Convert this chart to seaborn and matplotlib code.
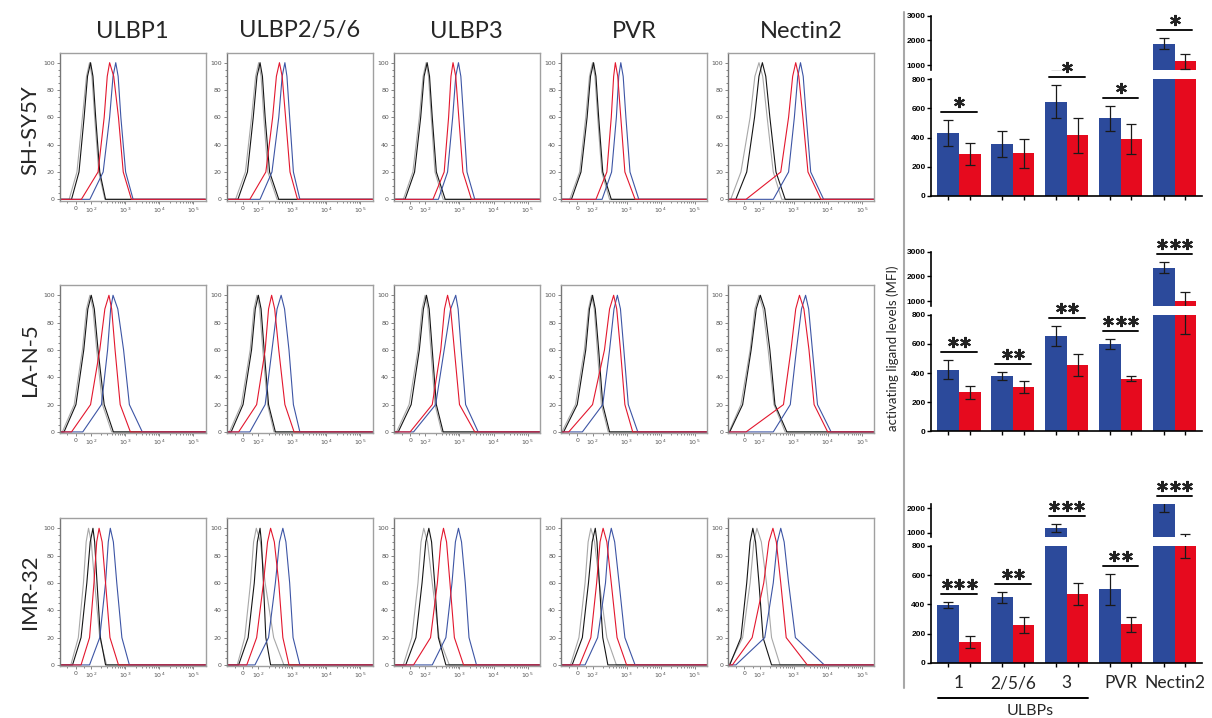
import numpy as np
import pandas as pd
import matplotlib
matplotlib.use('Agg')
import matplotlib.pyplot as plt
import seaborn as sns
from matplotlib.lines import Line2D

sns.set_theme(style='white')
plt.rcParams['font.family'] = ['Lato', 'DejaVu Sans']

markers = ['ULBP1', 'ULBP2/5/6', 'ULBP3', 'PVR', 'Nectin2']
cell_lines = ['SH-SY5Y', 'LA-N-5', 'IMR-32']

# histogram outlines: x position (decades, 10^2 -> 2) where each curve passes these % of max
hist_levels = [0, 20, 60, 90, 100, 90, 60, 20, 0]

shsy5y_gray = [[1.35, 1.58, 1.74, 1.86, 1.95, 2.02, 2.10, 2.22, 2.40],
               [1.33, 1.62, 1.80, 1.92, 2.01, 2.08, 2.16, 2.28, 2.55],
               [1.35, 1.63, 1.82, 1.93, 2.02, 2.09, 2.17, 2.28, 2.52],
               [1.33, 1.62, 1.80, 1.91, 2.00, 2.07, 2.15, 2.27, 2.50],
               [1.15, 1.45, 1.72, 1.86, 1.98, 2.09, 2.22, 2.40, 2.65]]
shsy5y_black = [[1.42, 1.64, 1.79, 1.89, 1.98, 2.05, 2.13, 2.25, 2.42],
                [1.40, 1.68, 1.85, 1.96, 2.05, 2.12, 2.20, 2.33, 2.60],
                [1.40, 1.68, 1.86, 1.96, 2.05, 2.12, 2.20, 2.32, 2.58],
                [1.38, 1.66, 1.84, 1.94, 2.03, 2.10, 2.18, 2.30, 2.55],
                [1.30, 1.62, 1.85, 1.98, 2.08, 2.18, 2.30, 2.48, 2.75]]
shsy5y_red = [[1.71, 2.20, 2.38, 2.47, 2.54, 2.66, 2.80, 2.94, 3.18],
              [1.75, 2.22, 2.42, 2.53, 2.62, 2.70, 2.80, 2.93, 3.15],
              [2.22, 2.55, 2.68, 2.75, 2.81, 2.89, 2.98, 3.10, 3.35],
              [2.10, 2.42, 2.55, 2.62, 2.67, 2.74, 2.83, 2.95, 3.25],
              [1.60, 2.62, 2.85, 2.97, 3.06, 3.15, 3.27, 3.42, 3.80]]
shsy5y_blue = [[1.96, 2.35, 2.54, 2.64, 2.72, 2.79, 2.87, 3.01, 3.23],
               [2.05, 2.40, 2.60, 2.70, 2.78, 2.84, 2.92, 3.03, 3.22],
               [2.38, 2.65, 2.80, 2.89, 2.97, 3.04, 3.12, 3.22, 3.45],
               [2.28, 2.56, 2.70, 2.77, 2.83, 2.90, 2.98, 3.10, 3.36],
               [2.40, 2.85, 3.02, 3.12, 3.20, 3.28, 3.37, 3.50, 3.88]]

lan5_gray = [[1.15, 1.50, 1.74, 1.86, 1.96, 2.05, 2.16, 2.33, 2.60],
             [1.15, 1.50, 1.76, 1.87, 1.96, 2.04, 2.13, 2.27, 2.46],
             [1.15, 1.52, 1.78, 1.90, 1.99, 2.07, 2.16, 2.28, 2.48],
             [1.10, 1.50, 1.76, 1.88, 1.97, 2.05, 2.14, 2.26, 2.46],
             [1.10, 1.45, 1.72, 1.86, 1.98, 2.10, 2.25, 2.42, 2.75]]
lan5_black = [[1.20, 1.55, 1.78, 1.90, 2.00, 2.09, 2.20, 2.38, 2.65],
              [1.20, 1.55, 1.80, 1.91, 2.00, 2.08, 2.17, 2.30, 2.50],
              [1.20, 1.58, 1.82, 1.94, 2.03, 2.11, 2.20, 2.32, 2.52],
              [1.15, 1.55, 1.80, 1.91, 2.00, 2.08, 2.18, 2.30, 2.50],
              [1.12, 1.50, 1.75, 1.90, 2.02, 2.15, 2.30, 2.45, 2.80]]
lan5_red = [[1.42, 1.98, 2.25, 2.40, 2.52, 2.60, 2.70, 2.85, 3.15],
            [1.42, 1.95, 2.20, 2.30, 2.39, 2.48, 2.60, 2.78, 3.05],
            [1.55, 2.20, 2.45, 2.56, 2.65, 2.74, 2.85, 3.00, 3.45],
            [1.30, 2.00, 2.35, 2.50, 2.62, 2.71, 2.82, 2.95, 3.18],
            [1.60, 2.70, 2.92, 3.06, 3.17, 3.30, 3.45, 3.60, 4.00]]
lan5_blue = [[1.75, 2.30, 2.48, 2.57, 2.64, 2.78, 2.95, 3.12, 3.50],
             [1.75, 2.20, 2.40, 2.55, 2.67, 2.77, 2.90, 3.03, 3.22],
             [1.65, 2.30, 2.55, 2.74, 2.89, 2.96, 3.05, 3.18, 3.55],
             [1.70, 2.30, 2.50, 2.63, 2.73, 2.82, 2.92, 3.05, 3.33],
             [2.40, 2.90, 3.08, 3.23, 3.35, 3.44, 3.55, 3.70, 4.10]]

imr32_gray = [[1.40, 1.62, 1.77, 1.85, 1.92, 2.00, 2.10, 2.25, 2.45],
              [1.38, 1.60, 1.77, 1.86, 1.94, 2.06, 2.20, 2.45, 2.75],
              [1.35, 1.60, 1.78, 1.87, 1.95, 2.06, 2.20, 2.40, 2.70],
              [1.35, 1.60, 1.78, 1.87, 1.95, 2.06, 2.20, 2.42, 2.70],
              [1.10, 1.50, 1.72, 1.83, 1.92, 2.05, 2.20, 2.35, 2.60]]
imr32_black = [[1.45, 1.70, 1.87, 1.97, 2.05, 2.10, 2.17, 2.27, 2.42],
               [1.42, 1.70, 1.88, 1.97, 2.05, 2.09, 2.15, 2.22, 2.36],
               [1.42, 1.72, 1.90, 2.01, 2.10, 2.18, 2.27, 2.38, 2.60],
               [1.40, 1.70, 1.88, 1.99, 2.08, 2.13, 2.20, 2.30, 2.45],
               [1.12, 1.45, 1.62, 1.72, 1.80, 1.88, 1.98, 2.10, 2.35]]
imr32_red = [[1.70, 1.95, 2.08, 2.16, 2.23, 2.32, 2.42, 2.55, 2.80],
             [1.66, 1.95, 2.15, 2.27, 2.36, 2.47, 2.60, 2.72, 2.90],
             [1.65, 2.15, 2.35, 2.45, 2.53, 2.62, 2.72, 2.85, 3.12],
             [1.62, 1.95, 2.12, 2.22, 2.31, 2.42, 2.55, 2.72, 3.00],
             [1.20, 1.78, 2.12, 2.27, 2.39, 2.49, 2.62, 2.78, 3.40]]
imr32_blue = [[1.95, 2.25, 2.42, 2.50, 2.56, 2.65, 2.75, 2.90, 3.12],
              [1.90, 2.30, 2.50, 2.62, 2.72, 2.81, 2.92, 3.02, 3.22],
              [2.20, 2.60, 2.78, 2.88, 2.97, 3.06, 3.17, 3.28, 3.50],
              [1.78, 2.15, 2.38, 2.47, 2.55, 2.65, 2.78, 2.95, 3.25],
              [1.30, 2.15, 2.40, 2.52, 2.62, 2.72, 2.85, 3.05, 3.90]]

# bar charts: MFI, control (blue) vs treated (red)
bar_groups = ['1', '2/5/6', '3', 'PVR', 'Nectin2']
shsy5y_blue_mfi = [434, 359, 645, 533, 1866]
shsy5y_blue_err = [90, 90, 113, 85, 228]
shsy5y_red_mfi = [288, 293, 418, 391, 1154]
shsy5y_red_err = [78, 100, 120, 102, 320]
shsy5y_stars = [1, 0, 1, 1, 1]

lan5_blue_mfi = [421, 379, 654, 597, 2349]
lan5_blue_err = [65, 30, 70, 35, 220]
lan5_red_mfi = [267, 302, 455, 361, 1027]
lan5_red_err = [43, 41, 75, 16, 362]
lan5_stars = [2, 2, 2, 3, 3]

imr32_blue_mfi = [396, 448, 1180, 503, 2250]
imr32_blue_err = [18, 36, 165, 108, 410]
imr32_red_mfi = [140, 260, 471, 263, 830]
imr32_red_err = [40, 55, 74, 53, 115]
imr32_stars = [3, 2, 3, 2, 3]

hist_colors = {'gray': '#a8a8a8', 'black': '#151515', 'blue': '#3d55a5', 'red': '#e3172e'}
bar_blue = '#2c4a9b'
bar_red = '#e60a1e'

W, H = 1212, 718
fig = plt.figure(figsize=(W / 100, H / 100), dpi=100)

def fx(px):
    return px / W

def fy(px):
    return 1 - px / H

# ---------- histograms ----------
hist_xlim = (1.07, 5.36)
row_tops = [52.7, 285.3, 518.3]
col_lefts = [59.6 + 167.1 * k for k in range(5)]
rows = [(shsy5y_gray, shsy5y_black, shsy5y_blue, shsy5y_red),
        (lan5_gray, lan5_black, lan5_blue, lan5_red),
        (imr32_gray, imr32_black, imr32_blue, imr32_red)]
minor_x = [np.log10(k * 10 ** d) for d in (2, 3, 4) for k in range(2, 10)] + [1.3, 1.8]

for r, (g, b, bl, rd) in enumerate(rows):
    for c in range(5):
        ax = fig.add_axes([fx(col_lefts[c]), fy(row_tops[r] + 148), fx(146), 148 / H])
        for name, curves in zip(['gray', 'black', 'blue', 'red'], [g, b, bl, rd]):
            xs = [hist_xlim[0]] + curves[c] + [hist_xlim[1]]
            ys = [0] + hist_levels + [0]
            sns.lineplot(x=xs, y=ys, ax=ax, color=hist_colors[name], lw=0.8,
                         sort=False, estimator=None)
        ax.set_xlim(*hist_xlim)
        ax.set_ylim(-1, 107.3)
        ax.set_xlabel('')
        ax.set_ylabel('')
        ax.set_yticks([0, 20, 40, 60, 80, 100])
        ax.set_yticks(np.arange(0, 101, 5), minor=True)
        ax.set_xticks([1.55, 2, 3, 4, 5])
        ax.set_xticks(minor_x, minor=True)
        ax.set_xticklabels(['0', r'$10^2$', r'$10^3$', r'$10^4$', r'$10^5$'])
        ax.tick_params(which='both', direction='out', colors='#555555', labelsize=4.5,
                       width=0.5, pad=1, left=True, bottom=True)
        ax.tick_params(which='major', length=2.5)
        ax.tick_params(which='minor', length=1.2)
        for lab in ax.get_xticklabels() + ax.get_yticklabels():
            lab.set_fontfamily('DejaVu Sans')
        for s in ax.spines.values():
            s.set_color('#a0a0a0')
            s.set_linewidth(1.0)
        ax.spines['left'].set_color('#777777')

for c, m in enumerate(markers):
    fig.text(fx(col_lefts[c] + 73), fy(31), m, fontsize=17, ha='center', va='center')
for r, (lab, yc) in enumerate(zip(cell_lines, [130, 360, 592])):
    fig.text(fx(30), fy(yc), lab, fontsize=16, rotation=90, ha='center', va='center')

# ---------- bar charts ----------
fig.add_artist(Line2D([fx(904), fx(904)], [fy(12), fy(688)], color='#a8a8a8', lw=1.5))
fig.text(fx(893), fy(348), 'activating ligand levels (MFI)', rotation=90,
         fontsize=9.5, ha='center', va='center')

bar_sets = [
    (shsy5y_blue_mfi, shsy5y_blue_err, shsy5y_red_mfi, shsy5y_red_err, shsy5y_stars,
     (79.3, 196), (15.7, 70), 3000, [1000, 2000, 3000]),
    (lan5_blue_mfi, lan5_blue_err, lan5_red_mfi, lan5_red_err, lan5_stars,
     (314.7, 431.3), (251.7, 306), 3000, [1000, 2000, 3000]),
    (imr32_blue_mfi, imr32_blue_err, imr32_red_mfi, imr32_red_err, imr32_stars,
     (546, 662.7), (504, 537.3), 2180, [1000, 2000]),
]
bx0, bx1 = 931, 1202
xpos = np.arange(5)

for i, (bm, be, rm, re_, stars, lo_px, hi_px, top, hi_ticks) in enumerate(bar_sets):
    ax_lo = fig.add_axes([fx(bx0), fy(lo_px[1]), fx(bx1 - bx0), (lo_px[1] - lo_px[0]) / H])
    ax_hi = fig.add_axes([fx(bx0), fy(hi_px[1]), fx(bx1 - bx0), (hi_px[1] - hi_px[0]) / H])
    df = pd.DataFrame({'group': bar_groups * 2,
                       'cond': ['control'] * 5 + ['treated'] * 5,
                       'mfi': bm + rm})
    for ax in (ax_lo, ax_hi):
        sns.barplot(data=df, x='group', y='mfi', hue='cond', palette=[bar_blue, bar_red],
                    width=0.8, errorbar=None, saturation=1, linewidth=0, legend=False, ax=ax)
        ax.errorbar(xpos - 0.2, bm, yerr=be, fmt='none', ecolor='#1a1a1a', elinewidth=0.9,
                    capsize=3.5, capthick=0.9, zorder=4)
        ax.errorbar(xpos + 0.2, rm, yerr=re_, fmt='none', ecolor='#1a1a1a', elinewidth=0.9,
                    capsize=3.5, capthick=0.9, zorder=4)
        ax.set_xlim(-0.52, 4.51)
        ax.set_xlabel('')
        ax.set_ylabel('')
        for s in ['top', 'right']:
            ax.spines[s].set_visible(False)
        ax.spines['left'].set_color('black')
        ax.spines['left'].set_linewidth(1.2)
        ax.spines['bottom'].set_color('black')
        ax.spines['bottom'].set_linewidth(1.2)
        ax.tick_params(axis='y', direction='out', length=3, width=1, colors='black',
                       labelsize=6, pad=1, left=True)
    ax_lo.set_ylim(0, 800)
    ax_lo.set_yticks([0, 200, 400, 600, 800])
    ax_hi.set_ylim(810, top)
    ax_hi.set_yticks(hi_ticks)
    ax_hi.spines['bottom'].set_visible(False)
    ax_hi.set_xticks([])
    ax_lo.set_xticks(np.concatenate([xpos - 0.2, xpos + 0.2]))
    ax_lo.set_xticklabels([])
    ax_lo.tick_params(axis='x', direction='out', length=3, width=1, colors='black', bottom=True)
    if i == 2:
        ax_lo.set_xticks(xpos, minor=True)
        ax_lo.set_xticklabels(bar_groups, minor=True)
        ax_lo.tick_params(axis='x', which='minor', length=0, labelsize=12.5, pad=9)
    for ax in (ax_lo, ax_hi):
        for lab in ax.get_yticklabels():
            lab.set_fontweight('bold')
            lab.set_fontfamily(['Liberation Sans', 'DejaVu Sans'])

    # significance bars and asterisks (pixel space, above the taller error bar)
    for g in range(5):
        if stars[g] == 0:
            continue
        v = max(bm[g] + be[g], rm[g] + re_[g])
        if v <= 800:
            y = ax_lo.transData.transform((0, v))[1]
        else:
            y = ax_hi.transData.transform((0, min(v, top)))[1]
        y_line = y + 8
        xa = ax_lo.transData.transform((g - 0.33, 0))[0]
        xb = ax_lo.transData.transform((g + 0.33, 0))[0]
        fig.add_artist(Line2D([xa / W, xb / W], [y_line / H, y_line / H], color='#111111', lw=1.4))
        xc = ax_lo.transData.transform((g, 0))[0]
        for k in range(stars[g]):
            xs = xc + (k - (stars[g] - 1) / 2) * 12.5
            fig.add_artist(Line2D([xs / W], [(y_line + 10) / H], marker=(6, 2, 0), markersize=8,
                                  mew=1.5, color='#222222', linestyle='none'))

fig.add_artist(Line2D([fx(938), fx(1088)], [fy(697.7), fy(697.7)], color='black', lw=1.4))
fig.text(fx(1030), fy(711), 'ULBPs', fontsize=11.5, ha='center', va='center')

fig.savefig('out.png', dpi=100)
